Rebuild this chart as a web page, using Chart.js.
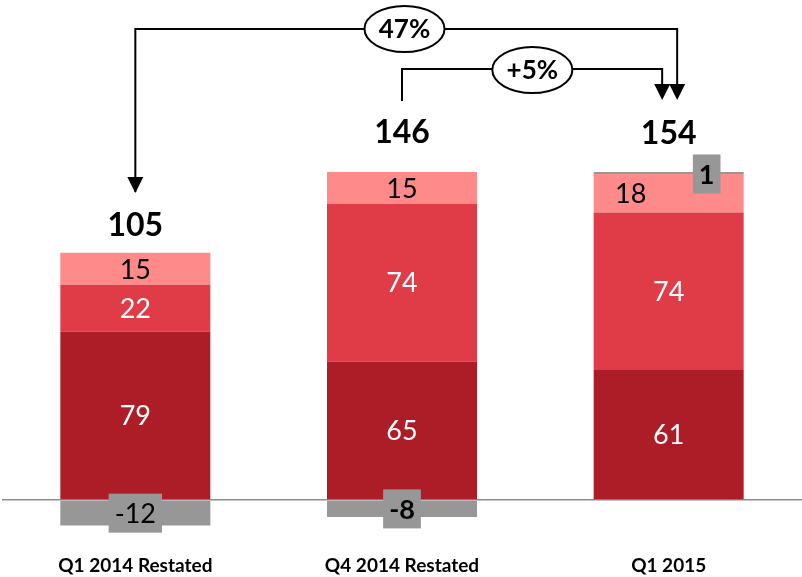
<!DOCTYPE html>
<html>
<head>
<meta charset="utf-8">
<script src="https://cdn.jsdelivr.net/npm/chart.js@4/dist/chart.umd.min.js"></script>
<style>
  body { margin: 0; background: #fff; }
  canvas { display: block; }
</style>
</head>
<body>
<canvas id="chart" width="802" height="577"></canvas>
<script>
const categories = ['Q1 2014 Restated', 'Q4 2014 Restated', 'Q1 2015'];
const adjustDown = [-12, -8, null];
const baseSeg = [79, 65, 61];
const midSeg = [22, 74, 74];
const topSeg = [15, 15, 18];
const adjustUp = [null, null, 1];
const totals = [105, 146, 154];
const growth = ['47%', '+5%'];

const FONT = 'Lato, "Liberation Sans", sans-serif';
const DARK = '#ad1d28';
const MID = '#df3c47';
const LIGHT = '#fe8a8a';
const GREY = '#979797';

// room above each total label (bar 1 sits lower than the other two)
const totalGap = [27, 39, 38];

function arrowDown(ctx, x, yTip) {
    ctx.beginPath();
    ctx.moveTo(x - 8, yTip - 16);
    ctx.lineTo(x + 8, yTip - 16);
    ctx.lineTo(x, yTip);
    ctx.closePath();
    ctx.fill();
}

function bubble(ctx, x, y, text) {
    ctx.beginPath();
    ctx.ellipse(x, y, 40, 23, 0, 0, Math.PI * 2);
    ctx.fillStyle = '#fff';
    ctx.fill();
    ctx.lineWidth = 2;
    ctx.strokeStyle = '#000';
    ctx.stroke();
    ctx.fillStyle = '#000';
    ctx.font = 'bold 26px ' + FONT;
    ctx.textAlign = 'center';
    ctx.textBaseline = 'middle';
    ctx.fillText(text, x, y + 1);
}

function greyBox(ctx, x, y, text, bold) {
    ctx.font = (bold ? 'bold ' : '') + '27px ' + FONT;
    const w = ctx.measureText(text).width + 12;
    ctx.fillStyle = GREY;
    ctx.fillRect(x - w / 2, y - 19.5, w, 39);
    ctx.fillStyle = '#000';
    ctx.textAlign = 'center';
    ctx.textBaseline = 'middle';
    ctx.fillText(text, x, y + 1);
}

const labelsPlugin = {
    id: 'labels',
    afterDatasetsDraw(chart) {
        const ctx = chart.ctx;
        ctx.save();
        chart.data.datasets.forEach((ds, di) => {
            const meta = chart.getDatasetMeta(di);
            meta.data.forEach((bar, i) => {
                const v = ds.data[i];
                if (v === null || v === undefined) return;
                const cy = (bar.y + bar.base) / 2;
                if (ds.kind === 'down') {
                    greyBox(ctx, bar.x, cy, String(v), i === 1);
                } else if (ds.kind === 'up') {
                    greyBox(ctx, bar.x + 38, cy + 1, String(v), true);
                } else {
                    let x = bar.x;
                    if (ds.kind === 'light' && adjustUp[i] !== null) x -= 38;
                    ctx.fillStyle = ds.kind === 'light' ? '#000' : '#fff';
                    ctx.font = '27px ' + FONT;
                    ctx.textAlign = 'center';
                    ctx.textBaseline = 'middle';
                    ctx.fillText(String(v), x, cy + 1);
                }
            });
        });

        // totals above the bars
        const tops = chart.getDatasetMeta(chart.data.datasets.length - 2).data;
        const last = chart.getDatasetMeta(chart.data.datasets.length - 1).data;
        totals.forEach((t, i) => {
            const top = Math.min(tops[i].y, adjustUp[i] !== null ? last[i].y : Infinity);
            ctx.fillStyle = '#000';
            ctx.font = 'bold 32px ' + FONT;
            ctx.textAlign = 'center';
            ctx.textBaseline = 'middle';
            ctx.fillText(String(t), tops[i].x, top - totalGap[i]);
        });

        // growth brackets
        const x0 = tops[0].x, x1 = tops[1].x, x2 = tops[2].x;
        ctx.strokeStyle = '#000';
        ctx.fillStyle = '#000';
        ctx.lineWidth = 2;
        ctx.beginPath();
        ctx.moveTo(x0, 192);
        ctx.lineTo(x0, 29);
        ctx.lineTo(x2 + 8.5, 29);
        ctx.lineTo(x2 + 8.5, 92);
        ctx.stroke();
        arrowDown(ctx, x0, 193);
        arrowDown(ctx, x2 + 8.5, 100);

        ctx.beginPath();
        ctx.moveTo(x1, 101);
        ctx.lineTo(x1, 69);
        ctx.lineTo(x2 - 6.5, 69);
        ctx.lineTo(x2 - 6.5, 92);
        ctx.stroke();
        arrowDown(ctx, x2 - 6.5, 100);

        bubble(ctx, x1 + 2.5, 29, growth[0]);
        bubble(ctx, (x1 + x2) / 2 - 3, 70, growth[1]);
        ctx.restore();
    }
};

new Chart(document.getElementById('chart'), {
    type: 'bar',
    data: {
        labels: categories,
        datasets: [
            { kind: 'down', data: adjustDown, backgroundColor: GREY },
            { kind: 'dark', data: baseSeg, backgroundColor: DARK },
            { kind: 'mid', data: midSeg, backgroundColor: MID },
            { kind: 'light', data: topSeg, backgroundColor: LIGHT },
            { kind: 'up', data: adjustUp, backgroundColor: GREY }
        ]
    },
    options: {
        responsive: false,
        animation: false,
        barPercentage: 1,
        categoryPercentage: 0.5625,
        layout: { padding: { left: 2, right: 0, top: 10, bottom: 0 } },
        plugins: { legend: { display: false }, tooltip: { enabled: false } },
        scales: {
            x: {
                stacked: true,
                grid: { display: false, drawTicks: false },
                border: { display: false },
                ticks: {
                    padding: 12,
                    color: '#000',
                    font: { family: FONT, size: 19, weight: 'bold' }
                },
                afterFit(scale) { scale.height = 34.4; }
            },
            y: {
                stacked: true,
                min: -20,
                max: 230,
                ticks: { display: false, stepSize: 10 },
                border: { display: false },
                grid: {
                    drawTicks: false,
                    lineWidth: 1.5,
                    color: c => c.tick && c.tick.value === 0 ? '#8c8c8c' : 'rgba(0,0,0,0)'
                }
            }
        }
    },
    plugins: [labelsPlugin]
});
</script>
</body>
</html>
